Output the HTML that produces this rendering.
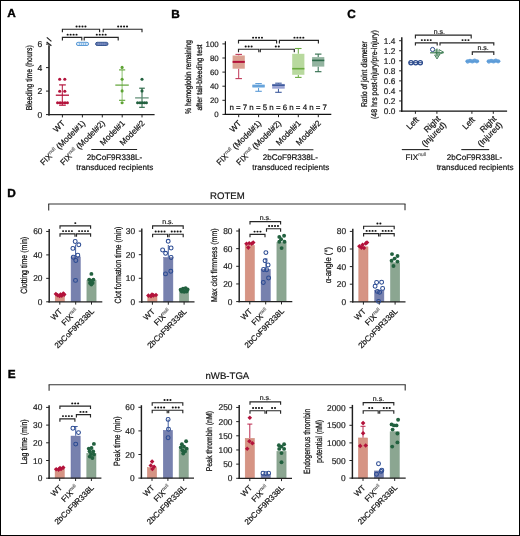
<!DOCTYPE html>
<html><head><meta charset="utf-8"><style>
html,body{margin:0;padding:0;background:#fff;}
.wrap{position:relative;width:520px;height:536px;overflow:hidden;}
.frame{position:absolute;left:0;top:0;width:520px;height:536px;box-sizing:border-box;border:1px solid #000;}
svg{display:block;font-family:"Liberation Sans", sans-serif;will-change:transform;}
</style></head><body><div class="wrap">
<svg width="520" height="536" viewBox="0 0 520 536" text-rendering="geometricPrecision" font-family='"Liberation Sans", sans-serif'>
<rect x="0" y="0" width="520" height="536" fill="#fff" stroke="none" stroke-width="0"/>
<text x="7.3" y="17.4" font-size="11.8" text-anchor="start" font-weight="bold" fill="#000" stroke="#000" stroke-width="0.4">A</text>
<text x="171.2" y="17.8" font-size="11.8" text-anchor="start" font-weight="bold" fill="#000" stroke="#000" stroke-width="0.4">B</text>
<text x="347.3" y="17.9" font-size="11.8" text-anchor="start" font-weight="bold" fill="#000" stroke="#000" stroke-width="0.4">C</text>
<text x="7.3" y="197.3" font-size="11.8" text-anchor="start" font-weight="bold" fill="#000" stroke="#000" stroke-width="0.4">D</text>
<text x="7.8" y="378.1" font-size="11.8" text-anchor="start" font-weight="bold" fill="#000" stroke="#000" stroke-width="0.4">E</text>
<line x1="49.0" y1="45.2" x2="49.0" y2="115.5" stroke="#3a3a3a" stroke-width="1.8"/>
<line x1="46.0" y1="114.6" x2="49.0" y2="114.6" stroke="#222" stroke-width="1.0"/>
<text x="42.300000000000004" y="117.696" font-size="8.6" text-anchor="end" font-weight="normal" fill="#222" stroke="#222" stroke-width="0.2">0</text>
<line x1="46.0" y1="91.1" x2="49.0" y2="91.1" stroke="#222" stroke-width="1.0"/>
<text x="42.300000000000004" y="94.196" font-size="8.6" text-anchor="end" font-weight="normal" fill="#222" stroke="#222" stroke-width="0.2">2</text>
<line x1="46.0" y1="67.6" x2="49.0" y2="67.6" stroke="#222" stroke-width="1.0"/>
<text x="42.300000000000004" y="70.696" font-size="8.6" text-anchor="end" font-weight="normal" fill="#222" stroke="#222" stroke-width="0.2">4</text>
<line x1="46.0" y1="44.099999999999994" x2="49.0" y2="44.099999999999994" stroke="#222" stroke-width="1.0"/>
<text x="42.300000000000004" y="47.19599999999999" font-size="8.6" text-anchor="end" font-weight="normal" fill="#222" stroke="#222" stroke-width="0.2">6</text>
<line x1="46.8" y1="37.4" x2="51.4" y2="41.4" stroke="#222" stroke-width="1.25"/>
<line x1="46.6" y1="42.0" x2="51.4" y2="45.8" stroke="#222" stroke-width="1.25"/>
<line x1="48.2" y1="114.6" x2="154.6" y2="114.6" stroke="#222" stroke-width="1.3"/>
<line x1="62.4" y1="114.6" x2="62.4" y2="117.39999999999999" stroke="#222" stroke-width="1.0"/>
<line x1="82.4" y1="114.6" x2="82.4" y2="117.39999999999999" stroke="#222" stroke-width="1.0"/>
<line x1="102.3" y1="114.6" x2="102.3" y2="117.39999999999999" stroke="#222" stroke-width="1.0"/>
<line x1="122.2" y1="114.6" x2="122.2" y2="117.39999999999999" stroke="#222" stroke-width="1.0"/>
<line x1="142.0" y1="114.6" x2="142.0" y2="117.39999999999999" stroke="#222" stroke-width="1.0"/>
<text transform="translate(32.45 77.80) rotate(-90) scale(0.7952 1)" x="0" y="0" font-size="8.6" text-anchor="middle" fill="#111" stroke="#111" stroke-width="0.25">Bleeding time (hours)</text>
<path d="M62.4 32.2V29.2H99.6V32.2" fill="none" stroke="#262626" stroke-width="1.15"/>
<ellipse cx="76.58" cy="26.50" rx="1.05" ry="0.88" fill="#111"/>
<ellipse cx="79.53" cy="26.50" rx="1.05" ry="0.88" fill="#111"/>
<ellipse cx="82.48" cy="26.50" rx="1.05" ry="0.88" fill="#111"/>
<ellipse cx="85.43" cy="26.50" rx="1.05" ry="0.88" fill="#111"/>
<path d="M103.2 32.2V29.2H142.0V32.2" fill="none" stroke="#262626" stroke-width="1.15"/>
<ellipse cx="118.17" cy="26.50" rx="1.05" ry="0.88" fill="#111"/>
<ellipse cx="121.12" cy="26.50" rx="1.05" ry="0.88" fill="#111"/>
<ellipse cx="124.08" cy="26.50" rx="1.05" ry="0.88" fill="#111"/>
<ellipse cx="127.03" cy="26.50" rx="1.05" ry="0.88" fill="#111"/>
<path d="M62.4 40.4V37.4H81.8V40.4" fill="none" stroke="#262626" stroke-width="1.15"/>
<ellipse cx="67.67" cy="34.70" rx="1.05" ry="0.88" fill="#111"/>
<ellipse cx="70.62" cy="34.70" rx="1.05" ry="0.88" fill="#111"/>
<ellipse cx="73.58" cy="34.70" rx="1.05" ry="0.88" fill="#111"/>
<ellipse cx="76.53" cy="34.70" rx="1.05" ry="0.88" fill="#111"/>
<path d="M84.2 40.4V37.4H118.2V40.4" fill="none" stroke="#262626" stroke-width="1.15"/>
<ellipse cx="96.78" cy="34.70" rx="1.05" ry="0.88" fill="#111"/>
<ellipse cx="99.73" cy="34.70" rx="1.05" ry="0.88" fill="#111"/>
<ellipse cx="102.68" cy="34.70" rx="1.05" ry="0.88" fill="#111"/>
<ellipse cx="105.62" cy="34.70" rx="1.05" ry="0.88" fill="#111"/>
<line x1="62.3" y1="84.9" x2="62.3" y2="105.2" stroke="#b3123b" stroke-width="1.0"/>
<line x1="59.1" y1="84.9" x2="65.8" y2="84.9" stroke="#b3123b" stroke-width="1.2"/>
<line x1="59.1" y1="105.2" x2="65.8" y2="105.2" stroke="#b3123b" stroke-width="1.2"/>
<line x1="55.8" y1="95.2" x2="69.0" y2="95.2" stroke="#b3123b" stroke-width="1.3"/>
<circle cx="59.7" cy="79.3" r="1.55" fill="#b3123b" stroke="none" stroke-width="0"/>
<circle cx="64.8" cy="79.3" r="1.55" fill="#b3123b" stroke="none" stroke-width="0"/>
<circle cx="59.7" cy="91.3" r="1.55" fill="#b3123b" stroke="none" stroke-width="0"/>
<circle cx="64.8" cy="91.3" r="1.55" fill="#b3123b" stroke="none" stroke-width="0"/>
<circle cx="57.6" cy="102.8" r="1.55" fill="#b3123b" stroke="none" stroke-width="0"/>
<circle cx="60.1" cy="102.8" r="1.55" fill="#b3123b" stroke="none" stroke-width="0"/>
<circle cx="62.5" cy="102.8" r="1.55" fill="#b3123b" stroke="none" stroke-width="0"/>
<circle cx="65.0" cy="102.8" r="1.55" fill="#b3123b" stroke="none" stroke-width="0"/>
<circle cx="67.4" cy="102.8" r="1.55" fill="#b3123b" stroke="none" stroke-width="0"/>
<rect x="76.4" y="42.3" width="12.2" height="3.2" rx="1.6" fill="#d8e8f7" stroke="#5a9ad6" stroke-width="1.0"/>
<line x1="79.6" y1="42.6" x2="79.6" y2="45.2" stroke="#6aa6dc" stroke-width="0.7"/>
<line x1="81.6" y1="42.6" x2="81.6" y2="45.2" stroke="#6aa6dc" stroke-width="0.7"/>
<line x1="83.6" y1="42.6" x2="83.6" y2="45.2" stroke="#6aa6dc" stroke-width="0.7"/>
<line x1="85.6" y1="42.6" x2="85.6" y2="45.2" stroke="#6aa6dc" stroke-width="0.7"/>
<rect x="95.6" y="42.3" width="12.4" height="3.2" rx="1.6" fill="#6478b0" stroke="#34548f" stroke-width="1.0"/>
<line x1="98.8" y1="42.6" x2="98.8" y2="45.2" stroke="#8a9ccc" stroke-width="0.6"/>
<line x1="100.8" y1="42.6" x2="100.8" y2="45.2" stroke="#8a9ccc" stroke-width="0.6"/>
<line x1="102.8" y1="42.6" x2="102.8" y2="45.2" stroke="#8a9ccc" stroke-width="0.6"/>
<line x1="104.8" y1="42.6" x2="104.8" y2="45.2" stroke="#8a9ccc" stroke-width="0.6"/>
<line x1="122.1" y1="69.9" x2="122.1" y2="100.3" stroke="#8cc070" stroke-width="1.0"/>
<line x1="119.0" y1="69.9" x2="125.2" y2="69.9" stroke="#5ea334" stroke-width="1.1"/>
<line x1="119.0" y1="100.3" x2="125.2" y2="100.3" stroke="#5ea334" stroke-width="1.1"/>
<line x1="115.3" y1="85.1" x2="128.8" y2="85.1" stroke="#5ea334" stroke-width="1.2"/>
<circle cx="122.1" cy="67.4" r="1.55" fill="#5ea334" stroke="none" stroke-width="0"/>
<circle cx="122.1" cy="79.3" r="1.55" fill="#5ea334" stroke="none" stroke-width="0"/>
<circle cx="122.1" cy="90.9" r="1.55" fill="#5ea334" stroke="none" stroke-width="0"/>
<circle cx="122.1" cy="102.8" r="1.55" fill="#5ea334" stroke="none" stroke-width="0"/>
<line x1="142.0" y1="88.2" x2="142.0" y2="107.3" stroke="#22613f" stroke-width="1.0"/>
<line x1="139.2" y1="88.2" x2="144.8" y2="88.2" stroke="#22613f" stroke-width="1.1"/>
<line x1="139.2" y1="107.3" x2="144.8" y2="107.3" stroke="#22613f" stroke-width="1.1"/>
<line x1="135.1" y1="97.9" x2="148.7" y2="97.9" stroke="#5a8a70" stroke-width="1.2"/>
<circle cx="142.0" cy="79.3" r="1.55" fill="#22613f" stroke="none" stroke-width="0"/>
<circle cx="142.0" cy="90.9" r="1.55" fill="#22613f" stroke="none" stroke-width="0"/>
<circle cx="137.6" cy="102.8" r="1.55" fill="#22613f" stroke="none" stroke-width="0"/>
<circle cx="140.0" cy="102.8" r="1.55" fill="#22613f" stroke="none" stroke-width="0"/>
<circle cx="142.2" cy="102.8" r="1.55" fill="#22613f" stroke="none" stroke-width="0"/>
<circle cx="144.4" cy="102.8" r="1.55" fill="#22613f" stroke="none" stroke-width="0"/>
<circle cx="146.4" cy="102.8" r="1.55" fill="#22613f" stroke="none" stroke-width="0"/>
<text x="65.6" y="123.7" font-size="8.2" text-anchor="end" fill="#111" stroke="#111" stroke-width="0.2" transform="rotate(-45 65.6 123.7)">WT</text>
<text x="85.60000000000001" y="123.7" font-size="8.2" text-anchor="end" fill="#111" stroke="#111" stroke-width="0.2" transform="rotate(-45 85.60000000000001 123.7)">FIX<tspan font-size="4.9" dy="-3.2" fill="#666" stroke="#666">null</tspan><tspan dy="3.2"> (Model#1)</tspan></text>
<text x="105.5" y="123.7" font-size="8.2" text-anchor="end" fill="#111" stroke="#111" stroke-width="0.2" transform="rotate(-45 105.5 123.7)">FIX<tspan font-size="4.9" dy="-3.2" fill="#666" stroke="#666">null</tspan><tspan dy="3.2"> (Model#2)</tspan></text>
<text x="125.4" y="123.7" font-size="8.2" text-anchor="end" fill="#111" stroke="#111" stroke-width="0.2" transform="rotate(-45 125.4 123.7)">Model#1</text>
<text x="145.2" y="123.7" font-size="8.2" text-anchor="end" fill="#111" stroke="#111" stroke-width="0.2" transform="rotate(-45 145.2 123.7)">Model#2</text>
<line x1="91.3" y1="149.5" x2="137.1" y2="149.5" stroke="#222" stroke-width="1.1"/>
<text x="114.5" y="160.1" font-size="8.1" text-anchor="middle" font-weight="normal" fill="#111" stroke="#111" stroke-width="0.2">2bCoF9R338L-</text>
<text x="114.8" y="169.9" font-size="8.1" text-anchor="middle" font-weight="normal" fill="#111" stroke="#111" stroke-width="0.2">transduced recipients</text>
<line x1="225.4" y1="41.3" x2="225.4" y2="114.97500000000001" stroke="#111" stroke-width="1.15"/>
<line x1="222.4" y1="114.4" x2="225.4" y2="114.4" stroke="#222" stroke-width="1.0"/>
<text x="218.7" y="117.244" font-size="7.9" text-anchor="end" font-weight="normal" fill="#222" stroke="#222" stroke-width="0.2">0</text>
<line x1="222.4" y1="100.30000000000001" x2="225.4" y2="100.30000000000001" stroke="#222" stroke-width="1.0"/>
<text x="218.7" y="103.144" font-size="7.9" text-anchor="end" font-weight="normal" fill="#222" stroke="#222" stroke-width="0.2">20</text>
<line x1="222.4" y1="86.2" x2="225.4" y2="86.2" stroke="#222" stroke-width="1.0"/>
<text x="218.7" y="89.044" font-size="7.9" text-anchor="end" font-weight="normal" fill="#222" stroke="#222" stroke-width="0.2">40</text>
<line x1="222.4" y1="72.10000000000001" x2="225.4" y2="72.10000000000001" stroke="#222" stroke-width="1.0"/>
<text x="218.7" y="74.944" font-size="7.9" text-anchor="end" font-weight="normal" fill="#222" stroke="#222" stroke-width="0.2">60</text>
<line x1="222.4" y1="58.00000000000001" x2="225.4" y2="58.00000000000001" stroke="#222" stroke-width="1.0"/>
<text x="218.7" y="60.84400000000001" font-size="7.9" text-anchor="end" font-weight="normal" fill="#222" stroke="#222" stroke-width="0.2">80</text>
<line x1="222.4" y1="43.900000000000006" x2="225.4" y2="43.900000000000006" stroke="#222" stroke-width="1.0"/>
<text x="218.7" y="46.74400000000001" font-size="7.9" text-anchor="end" font-weight="normal" fill="#222" stroke="#222" stroke-width="0.2">100</text>
<line x1="224.6" y1="114.4" x2="331.3" y2="114.4" stroke="#111" stroke-width="1.2"/>
<line x1="238.7" y1="114.4" x2="238.7" y2="117.2" stroke="#222" stroke-width="1.0"/>
<line x1="258.6" y1="114.4" x2="258.6" y2="117.2" stroke="#222" stroke-width="1.0"/>
<line x1="278.5" y1="114.4" x2="278.5" y2="117.2" stroke="#222" stroke-width="1.0"/>
<line x1="298.3" y1="114.4" x2="298.3" y2="117.2" stroke="#222" stroke-width="1.0"/>
<line x1="318.3" y1="114.4" x2="318.3" y2="117.2" stroke="#222" stroke-width="1.0"/>
<text transform="translate(191.29 77.00) rotate(-90) scale(0.8004 1)" x="0" y="0" font-size="8.4" text-anchor="middle" fill="#111" stroke="#111" stroke-width="0.25">% hemoglobin remaining</text>
<text transform="translate(202.06 77.50) rotate(-90) scale(0.8629 1)" x="0" y="0" font-size="8.0" text-anchor="middle" fill="#111" stroke="#111" stroke-width="0.25">after tail-bleeding test</text>
<path d="M238.5 43.4V40.4H276.6V43.4" fill="none" stroke="#262626" stroke-width="1.15"/>
<ellipse cx="253.12" cy="37.70" rx="1.05" ry="0.88" fill="#111"/>
<ellipse cx="256.07" cy="37.70" rx="1.05" ry="0.88" fill="#111"/>
<ellipse cx="259.02" cy="37.70" rx="1.05" ry="0.88" fill="#111"/>
<ellipse cx="261.98" cy="37.70" rx="1.05" ry="0.88" fill="#111"/>
<path d="M279.4 43.4V40.4H318.4V43.4" fill="none" stroke="#262626" stroke-width="1.15"/>
<ellipse cx="294.47" cy="37.70" rx="1.05" ry="0.88" fill="#111"/>
<ellipse cx="297.42" cy="37.70" rx="1.05" ry="0.88" fill="#111"/>
<ellipse cx="300.37" cy="37.70" rx="1.05" ry="0.88" fill="#111"/>
<ellipse cx="303.32" cy="37.70" rx="1.05" ry="0.88" fill="#111"/>
<path d="M238.5 52.2V49.2H258.8V52.2" fill="none" stroke="#262626" stroke-width="1.15"/>
<ellipse cx="245.70" cy="46.50" rx="1.05" ry="0.88" fill="#111"/>
<ellipse cx="248.65" cy="46.50" rx="1.05" ry="0.88" fill="#111"/>
<ellipse cx="251.60" cy="46.50" rx="1.05" ry="0.88" fill="#111"/>
<path d="M260.3 52.2V49.2H294.3V52.2" fill="none" stroke="#262626" stroke-width="1.15"/>
<ellipse cx="275.82" cy="46.50" rx="1.05" ry="0.88" fill="#111"/>
<ellipse cx="278.77" cy="46.50" rx="1.05" ry="0.88" fill="#111"/>
<line x1="238.7" y1="54.4" x2="238.7" y2="55.5" stroke="#c03858" stroke-width="1.0"/>
<line x1="238.7" y1="68.7" x2="238.7" y2="78.6" stroke="#c03858" stroke-width="1.0"/>
<line x1="235.45" y1="54.4" x2="241.95" y2="54.4" stroke="#c03858" stroke-width="1.1"/>
<line x1="235.45" y1="78.6" x2="241.95" y2="78.6" stroke="#c03858" stroke-width="1.1"/>
<rect x="232.6" y="55.5" width="12.200000000000017" height="13.200000000000003" fill="#dba292" stroke="none" stroke-width="0"/>
<line x1="232.6" y1="61.9" x2="244.8" y2="61.9" stroke="#b3123b" stroke-width="2.0"/>
<line x1="258.55" y1="83.6" x2="258.55" y2="84.4" stroke="#5a9ad6" stroke-width="1.0"/>
<line x1="258.55" y1="87.8" x2="258.55" y2="91.3" stroke="#5a9ad6" stroke-width="1.0"/>
<line x1="255.3" y1="83.6" x2="261.8" y2="83.6" stroke="#5a9ad6" stroke-width="1.1"/>
<line x1="255.3" y1="91.3" x2="261.8" y2="91.3" stroke="#5a9ad6" stroke-width="1.1"/>
<rect x="252.4" y="84.4" width="12.299999999999983" height="3.3999999999999915" fill="#9cc6ec" stroke="none" stroke-width="0"/>
<line x1="252.4" y1="86.0" x2="264.7" y2="86.0" stroke="#5a9ad6" stroke-width="1.6"/>
<line x1="278.45" y1="83.2" x2="278.45" y2="83.9" stroke="#3d5a9c" stroke-width="1.0"/>
<line x1="278.45" y1="88.7" x2="278.45" y2="92.3" stroke="#3d5a9c" stroke-width="1.0"/>
<line x1="275.2" y1="83.2" x2="281.7" y2="83.2" stroke="#3d5a9c" stroke-width="1.1"/>
<line x1="275.2" y1="92.3" x2="281.7" y2="92.3" stroke="#3d5a9c" stroke-width="1.1"/>
<rect x="272.2" y="83.9" width="12.5" height="4.799999999999997" fill="#9aa3d3" stroke="none" stroke-width="0"/>
<line x1="272.2" y1="85.2" x2="284.7" y2="85.2" stroke="#3d5a9c" stroke-width="1.6"/>
<line x1="298.29999999999995" y1="48.5" x2="298.29999999999995" y2="53.8" stroke="#6aaa40" stroke-width="1.0"/>
<line x1="298.29999999999995" y1="74.8" x2="298.29999999999995" y2="77.4" stroke="#6aaa40" stroke-width="1.0"/>
<line x1="295.04999999999995" y1="48.5" x2="301.54999999999995" y2="48.5" stroke="#6aaa40" stroke-width="1.1"/>
<line x1="295.04999999999995" y1="77.4" x2="301.54999999999995" y2="77.4" stroke="#6aaa40" stroke-width="1.1"/>
<rect x="292.2" y="53.8" width="12.199999999999989" height="21.0" fill="#b8d99e" stroke="none" stroke-width="0"/>
<line x1="292.2" y1="68.7" x2="304.4" y2="68.7" stroke="#6aaa40" stroke-width="1.6"/>
<line x1="318.20000000000005" y1="54.1" x2="318.20000000000005" y2="57.1" stroke="#2e6b4a" stroke-width="1.0"/>
<line x1="318.20000000000005" y1="66.6" x2="318.20000000000005" y2="71.7" stroke="#2e6b4a" stroke-width="1.0"/>
<line x1="314.95000000000005" y1="54.1" x2="321.45000000000005" y2="54.1" stroke="#2e6b4a" stroke-width="1.1"/>
<line x1="314.95000000000005" y1="71.7" x2="321.45000000000005" y2="71.7" stroke="#2e6b4a" stroke-width="1.1"/>
<rect x="312.1" y="57.1" width="12.199999999999989" height="9.499999999999993" fill="#93b4a0" stroke="none" stroke-width="0"/>
<line x1="312.1" y1="60.4" x2="324.3" y2="60.4" stroke="#2e6b4a" stroke-width="1.6"/>
<text x="241.89999999999998" y="123.7" font-size="8.2" text-anchor="end" fill="#111" stroke="#111" stroke-width="0.2" transform="rotate(-45 241.89999999999998 123.7)">WT</text>
<text x="261.8" y="123.7" font-size="8.2" text-anchor="end" fill="#111" stroke="#111" stroke-width="0.2" transform="rotate(-45 261.8 123.7)">FIX<tspan font-size="4.9" dy="-3.2" fill="#666" stroke="#666">null</tspan><tspan dy="3.2"> (Model#1)</tspan></text>
<text x="281.7" y="123.7" font-size="8.2" text-anchor="end" fill="#111" stroke="#111" stroke-width="0.2" transform="rotate(-45 281.7 123.7)">FIX<tspan font-size="4.9" dy="-3.2" fill="#666" stroke="#666">null</tspan><tspan dy="3.2"> (Model#2)</tspan></text>
<text x="301.5" y="123.7" font-size="8.2" text-anchor="end" fill="#111" stroke="#111" stroke-width="0.2" transform="rotate(-45 301.5 123.7)">Model#1</text>
<text x="321.5" y="123.7" font-size="8.2" text-anchor="end" fill="#111" stroke="#111" stroke-width="0.2" transform="rotate(-45 321.5 123.7)">Model#2</text>
<text x="278.2" y="109.6" font-size="7.9" text-anchor="middle" font-weight="normal" fill="#111" stroke="#111" stroke-width="0.2">n = 7 n = 5 n = 6 n = 4 n = 7</text>
<line x1="268.2" y1="149.8" x2="313.4" y2="149.8" stroke="#222" stroke-width="1.1"/>
<text x="290.3" y="159.9" font-size="8.1" text-anchor="middle" font-weight="normal" fill="#111" stroke="#111" stroke-width="0.2">2bCoF9R338L-</text>
<text x="290.8" y="169.8" font-size="8.1" text-anchor="middle" font-weight="normal" fill="#111" stroke="#111" stroke-width="0.2">transduced recipients</text>
<line x1="401.8" y1="37.3" x2="401.8" y2="111.7" stroke="#111" stroke-width="1.4"/>
<line x1="399.1" y1="111.0" x2="401.8" y2="111.0" stroke="#222" stroke-width="1.0"/>
<text x="395.40000000000003" y="113.988" font-size="8.3" text-anchor="end" font-weight="normal" fill="#222" stroke="#222" stroke-width="0.2">0.0</text>
<line x1="399.1" y1="100.96" x2="401.8" y2="100.96" stroke="#222" stroke-width="1.0"/>
<text x="395.40000000000003" y="103.948" font-size="8.3" text-anchor="end" font-weight="normal" fill="#222" stroke="#222" stroke-width="0.2">0.2</text>
<line x1="399.1" y1="90.92" x2="401.8" y2="90.92" stroke="#222" stroke-width="1.0"/>
<text x="395.40000000000003" y="93.908" font-size="8.3" text-anchor="end" font-weight="normal" fill="#222" stroke="#222" stroke-width="0.2">0.4</text>
<line x1="399.1" y1="80.88" x2="401.8" y2="80.88" stroke="#222" stroke-width="1.0"/>
<text x="395.40000000000003" y="83.868" font-size="8.3" text-anchor="end" font-weight="normal" fill="#222" stroke="#222" stroke-width="0.2">0.6</text>
<line x1="399.1" y1="70.84" x2="401.8" y2="70.84" stroke="#222" stroke-width="1.0"/>
<text x="395.40000000000003" y="73.828" font-size="8.3" text-anchor="end" font-weight="normal" fill="#222" stroke="#222" stroke-width="0.2">0.8</text>
<line x1="399.1" y1="60.8" x2="401.8" y2="60.8" stroke="#222" stroke-width="1.0"/>
<text x="395.40000000000003" y="63.788" font-size="8.3" text-anchor="end" font-weight="normal" fill="#222" stroke="#222" stroke-width="0.2">1.0</text>
<line x1="399.1" y1="50.76" x2="401.8" y2="50.76" stroke="#222" stroke-width="1.0"/>
<text x="395.40000000000003" y="53.748" font-size="8.3" text-anchor="end" font-weight="normal" fill="#222" stroke="#222" stroke-width="0.2">1.2</text>
<line x1="399.1" y1="40.72" x2="401.8" y2="40.72" stroke="#222" stroke-width="1.0"/>
<text x="395.40000000000003" y="43.708" font-size="8.3" text-anchor="end" font-weight="normal" fill="#222" stroke="#222" stroke-width="0.2">1.4</text>
<line x1="401.0" y1="111.0" x2="507.1" y2="111.0" stroke="#111" stroke-width="1.25"/>
<line x1="415.4" y1="111.0" x2="415.4" y2="113.8" stroke="#222" stroke-width="1.0"/>
<line x1="436.9" y1="111.0" x2="436.9" y2="113.8" stroke="#222" stroke-width="1.0"/>
<line x1="471.9" y1="111.0" x2="471.9" y2="113.8" stroke="#222" stroke-width="1.0"/>
<line x1="493.3" y1="111.0" x2="493.3" y2="113.8" stroke="#222" stroke-width="1.0"/>
<text transform="translate(367.19 74.20) rotate(-90) scale(0.8077 1)" x="0" y="0" font-size="8.4" text-anchor="middle" fill="#111" stroke="#111" stroke-width="0.25">Ratio of joint diameter</text>
<text transform="translate(377.49 74.60) rotate(-90) scale(0.8289 1)" x="0" y="0" font-size="8.4" text-anchor="middle" fill="#111" stroke="#111" stroke-width="0.25">(48 hrs post-injury/pre-injury)</text>
<path d="M415.4 38.5V35.1H471.2V38.5" fill="none" stroke="#262626" stroke-width="1.15"/>
<text x="439.4" y="33.5" font-size="7.0" text-anchor="middle" font-weight="normal" fill="#222" stroke="#222" stroke-width="0.2">n.s.</text>
<path d="M415.4 45.4V42.8H437.2V45.4" fill="none" stroke="#262626" stroke-width="1.15"/>
<ellipse cx="421.87" cy="40.10" rx="1.05" ry="0.88" fill="#111"/>
<ellipse cx="424.82" cy="40.10" rx="1.05" ry="0.88" fill="#111"/>
<ellipse cx="427.77" cy="40.10" rx="1.05" ry="0.88" fill="#111"/>
<ellipse cx="430.72" cy="40.10" rx="1.05" ry="0.88" fill="#111"/>
<path d="M440.0 45.4V42.8H493.8V45.4" fill="none" stroke="#262626" stroke-width="1.15"/>
<ellipse cx="462.55" cy="40.10" rx="1.05" ry="0.88" fill="#111"/>
<ellipse cx="465.50" cy="40.10" rx="1.05" ry="0.88" fill="#111"/>
<ellipse cx="468.45" cy="40.10" rx="1.05" ry="0.88" fill="#111"/>
<path d="M472.3 55.0V51.8H493.8V55.0" fill="none" stroke="#262626" stroke-width="1.15"/>
<text x="483.05" y="50.199999999999996" font-size="7.0" text-anchor="middle" font-weight="normal" fill="#222" stroke="#222" stroke-width="0.2">n.s.</text>
<circle cx="411.0" cy="62.7" r="2.1" fill="none" stroke="#2a4a8e" stroke-width="1.25"/>
<circle cx="415.7" cy="62.7" r="2.1" fill="none" stroke="#2a4a8e" stroke-width="1.25"/>
<circle cx="420.3" cy="62.7" r="2.1" fill="none" stroke="#2a4a8e" stroke-width="1.25"/>
<line x1="408.5" y1="62.7" x2="423.0" y2="62.7" stroke="#2e4a8a" stroke-width="1.0"/>
<circle cx="432.6" cy="49.5" r="2.1" fill="none" stroke="#2e4a8a" stroke-width="1.0"/>
<line x1="430.1" y1="52.8" x2="443.5" y2="52.8" stroke="#3a7a50" stroke-width="1.2"/>
<line x1="437.0" y1="48.5" x2="437.0" y2="57.5" stroke="#3a7a50" stroke-width="1.0"/>
<path d="M439 49.6L443.6 52.2L439 54.6Z" fill="none" stroke="#3a7a50" stroke-width="0.9"/>
<path d="M434.6 55L439.4 55L437 59Z" fill="none" stroke="#3a7a50" stroke-width="0.9"/>
<path d="M434.5 50.6L436.7 49.6L436.7 54Z" fill="none" stroke="#3a7a50" stroke-width="0.8"/>
<circle cx="467.7" cy="61.5" r="2.15" fill="#6aa5dd" stroke="none" stroke-width="0"/>
<circle cx="470.0" cy="60.800000000000004" r="2.15" fill="#6aa5dd" stroke="none" stroke-width="0"/>
<circle cx="472.3" cy="61.400000000000006" r="2.15" fill="#6aa5dd" stroke="none" stroke-width="0"/>
<circle cx="474.59999999999997" cy="60.7" r="2.15" fill="#6aa5dd" stroke="none" stroke-width="0"/>
<circle cx="476.9" cy="61.300000000000004" r="2.15" fill="#6aa5dd" stroke="none" stroke-width="0"/>
<line x1="465.5" y1="61.2" x2="479.1" y2="61.2" stroke="#5a9ad6" stroke-width="1.3"/>
<circle cx="488.9" cy="61.5" r="2.15" fill="#6aa5dd" stroke="none" stroke-width="0"/>
<circle cx="491.2" cy="60.800000000000004" r="2.15" fill="#6aa5dd" stroke="none" stroke-width="0"/>
<circle cx="493.5" cy="61.400000000000006" r="2.15" fill="#6aa5dd" stroke="none" stroke-width="0"/>
<circle cx="495.79999999999995" cy="60.7" r="2.15" fill="#6aa5dd" stroke="none" stroke-width="0"/>
<circle cx="498.09999999999997" cy="61.300000000000004" r="2.15" fill="#6aa5dd" stroke="none" stroke-width="0"/>
<line x1="486.7" y1="61.2" x2="500.3" y2="61.2" stroke="#5a9ad6" stroke-width="1.3"/>
<text x="419.5" y="120.3" font-size="8.3" text-anchor="end" fill="#111" stroke="#111" stroke-width="0.2" transform="rotate(-45 419.5 120.3)">Left</text>
<text x="441.0" y="119.4" font-size="8.3" text-anchor="end" fill="#111" stroke="#111" stroke-width="0.2" transform="rotate(-45 441.0 119.4)">Right</text>
<text x="446.8" y="125.4" font-size="8.3" text-anchor="end" fill="#111" stroke="#111" stroke-width="0.2" transform="rotate(-45 446.8 125.4)">(Injured)</text>
<text x="475.5" y="120.3" font-size="8.3" text-anchor="end" fill="#111" stroke="#111" stroke-width="0.2" transform="rotate(-45 475.5 120.3)">Left</text>
<text x="497.0" y="119.4" font-size="8.3" text-anchor="end" fill="#111" stroke="#111" stroke-width="0.2" transform="rotate(-45 497.0 119.4)">Right</text>
<text x="502.8" y="125.4" font-size="8.3" text-anchor="end" fill="#111" stroke="#111" stroke-width="0.2" transform="rotate(-45 502.8 125.4)">(Injured)</text>
<line x1="401.8" y1="149.6" x2="429.5" y2="149.6" stroke="#222" stroke-width="1.1"/>
<line x1="461.3" y1="149.6" x2="489.2" y2="149.6" stroke="#222" stroke-width="1.1"/>
<text x="405.6" y="159.6" font-size="8.1" text-anchor="start" font-weight="normal" fill="#111" stroke="#111" stroke-width="0.2">FIX<tspan font-size="4.9" dy="-3.2" fill="#666" stroke="#666">null</tspan></text>
<text x="474.5" y="159.6" font-size="8.1" text-anchor="middle" font-weight="normal" fill="#111" stroke="#111" stroke-width="0.2">2bCoF9R338L-</text>
<text x="475.1" y="169.7" font-size="8.1" text-anchor="middle" font-weight="normal" fill="#111" stroke="#111" stroke-width="0.2">transduced recipients</text>
<line x1="48.2" y1="204.0" x2="405.5" y2="204.0" stroke="#333" stroke-width="1.1"/>
<line x1="48.7" y1="204.0" x2="48.7" y2="210.4" stroke="#333" stroke-width="1.1"/>
<line x1="405.0" y1="204.0" x2="405.0" y2="210.2" stroke="#333" stroke-width="1.1"/>
<text x="227.4" y="198.6" font-size="9.6" text-anchor="middle" font-weight="normal" fill="#111" stroke="#111" stroke-width="0.2">ROTEM</text>
<line x1="48.6" y1="384.7" x2="405.7" y2="384.7" stroke="#333" stroke-width="1.1"/>
<line x1="49.1" y1="384.7" x2="49.1" y2="390.7" stroke="#333" stroke-width="1.1"/>
<line x1="405.2" y1="384.7" x2="405.2" y2="390.5" stroke="#333" stroke-width="1.1"/>
<text x="227.4" y="379.2" font-size="9.6" text-anchor="middle" font-weight="normal" fill="#111" stroke="#111" stroke-width="0.2">nWB-TGA</text>
<rect x="55.2" y="295.85" width="9.2" height="5.949999999999989" fill="#d69484" stroke="#cc8676" stroke-width="0.5"/>
<rect x="71.10000000000001" y="256.75" width="9.2" height="45.05000000000001" fill="#7781ae" stroke="#6872a6" stroke-width="0.5"/>
<rect x="86.9" y="280.25" width="9.2" height="21.55000000000001" fill="#8ba691" stroke="#7d9a86" stroke-width="0.5"/>
<line x1="49.2" y1="229.0" x2="49.2" y2="302.52500000000003" stroke="#1e1e1e" stroke-width="1.45"/>
<line x1="46.2" y1="301.8" x2="49.2" y2="301.8" stroke="#222" stroke-width="1.0"/>
<text x="42.50000000000001" y="304.824" font-size="8.4" text-anchor="end" font-weight="normal" fill="#222" stroke="#222" stroke-width="0.2">0</text>
<line x1="46.2" y1="278.35" x2="49.2" y2="278.35" stroke="#222" stroke-width="1.0"/>
<text x="42.50000000000001" y="281.374" font-size="8.4" text-anchor="end" font-weight="normal" fill="#222" stroke="#222" stroke-width="0.2">20</text>
<line x1="46.2" y1="254.90000000000003" x2="49.2" y2="254.90000000000003" stroke="#222" stroke-width="1.0"/>
<text x="42.50000000000001" y="257.92400000000004" font-size="8.4" text-anchor="end" font-weight="normal" fill="#222" stroke="#222" stroke-width="0.2">40</text>
<line x1="46.2" y1="231.45000000000002" x2="49.2" y2="231.45000000000002" stroke="#222" stroke-width="1.0"/>
<text x="42.50000000000001" y="234.47400000000002" font-size="8.4" text-anchor="end" font-weight="normal" fill="#222" stroke="#222" stroke-width="0.2">60</text>
<line x1="48.400000000000006" y1="301.8" x2="102.3" y2="301.8" stroke="#222" stroke-width="1.3"/>
<line x1="59.800000000000004" y1="301.8" x2="59.800000000000004" y2="304.6" stroke="#222" stroke-width="1.0"/>
<line x1="75.7" y1="301.8" x2="75.7" y2="304.6" stroke="#222" stroke-width="1.0"/>
<line x1="91.5" y1="301.8" x2="91.5" y2="304.6" stroke="#222" stroke-width="1.0"/>
<line x1="75.6" y1="244.5" x2="75.6" y2="256.5" stroke="#2f4e96" stroke-width="0.9"/>
<line x1="75.6" y1="244.5" x2="75.6" y2="244.5" stroke="#2f4e96" stroke-width="0.9"/>
<path d="M55.9 291.7L58.199999999999996 294.0L55.9 296.3L53.6 294.0Z" fill="#b3123b"/>
<path d="M57.6 293.0L59.9 295.3L57.6 297.6L55.300000000000004 295.3Z" fill="#b3123b"/>
<path d="M59.6 293.7L61.9 296.0L59.6 298.3L57.300000000000004 296.0Z" fill="#b3123b"/>
<path d="M61.8 293.3L64.1 295.6L61.8 297.90000000000003L59.5 295.6Z" fill="#b3123b"/>
<path d="M63.3 291.3L65.6 293.6L63.3 295.90000000000003L61.0 293.6Z" fill="#b3123b"/>
<path d="M64.2 292.3L66.5 294.6L64.2 296.90000000000003L61.900000000000006 294.6Z" fill="#b3123b"/>
<path d="M60.5 292.3L62.8 294.6L60.5 296.90000000000003L58.2 294.6Z" fill="#b3123b"/>
<circle cx="75.2" cy="241.5" r="1.95" fill="none" stroke="#2a4a92" stroke-width="1.05"/>
<circle cx="78.8" cy="244.8" r="1.95" fill="none" stroke="#2a4a92" stroke-width="1.05"/>
<circle cx="72.9" cy="248.4" r="1.95" fill="none" stroke="#2a4a92" stroke-width="1.05"/>
<circle cx="77.8" cy="255.2" r="1.95" fill="none" stroke="#2a4a92" stroke-width="1.05"/>
<circle cx="73.3" cy="257.2" r="1.95" fill="none" stroke="#2a4a92" stroke-width="1.05"/>
<circle cx="75.8" cy="260.5" r="1.95" fill="none" stroke="#2a4a92" stroke-width="1.05"/>
<circle cx="75.5" cy="280.4" r="1.95" fill="none" stroke="#2a4a92" stroke-width="1.05"/>
<circle cx="91.4" cy="273.9" r="1.95" fill="#22613f" stroke="none" stroke-width="0"/>
<circle cx="89.2" cy="279.6" r="1.95" fill="#22613f" stroke="none" stroke-width="0"/>
<circle cx="93.4" cy="279.6" r="1.95" fill="#22613f" stroke="none" stroke-width="0"/>
<circle cx="91.4" cy="281.0" r="1.95" fill="#22613f" stroke="none" stroke-width="0"/>
<circle cx="90.0" cy="283.0" r="1.95" fill="#22613f" stroke="none" stroke-width="0"/>
<circle cx="92.6" cy="283.0" r="1.95" fill="#22613f" stroke="none" stroke-width="0"/>
<circle cx="91.3" cy="284.6" r="1.95" fill="#22613f" stroke="none" stroke-width="0"/>
<text transform="translate(27.48 265.30) rotate(-90) scale(0.7806 1)" x="0" y="0" font-size="9.0" text-anchor="middle" fill="#111" stroke="#111" stroke-width="0.25">Clotting time (min)</text>
<path d="M60.00000000000001 228.8V225.8H90.6V228.8" fill="none" stroke="#262626" stroke-width="1.15"/>
<ellipse cx="75.30" cy="223.10" rx="1.05" ry="0.88" fill="#111"/>
<path d="M60.00000000000001 236.8V233.8H75.0V236.8" fill="none" stroke="#262626" stroke-width="1.15"/>
<ellipse cx="63.08" cy="231.10" rx="1.05" ry="0.88" fill="#111"/>
<ellipse cx="66.03" cy="231.10" rx="1.05" ry="0.88" fill="#111"/>
<ellipse cx="68.98" cy="231.10" rx="1.05" ry="0.88" fill="#111"/>
<ellipse cx="71.93" cy="231.10" rx="1.05" ry="0.88" fill="#111"/>
<path d="M76.5 236.8V233.8H90.6V236.8" fill="none" stroke="#262626" stroke-width="1.15"/>
<ellipse cx="79.12" cy="231.10" rx="1.05" ry="0.88" fill="#111"/>
<ellipse cx="82.08" cy="231.10" rx="1.05" ry="0.88" fill="#111"/>
<ellipse cx="85.03" cy="231.10" rx="1.05" ry="0.88" fill="#111"/>
<ellipse cx="87.97" cy="231.10" rx="1.05" ry="0.88" fill="#111"/>
<text x="62.800000000000004" y="311.90000000000003" font-size="8.0" text-anchor="end" fill="#111" stroke="#111" stroke-width="0.2" transform="rotate(-45 62.800000000000004 311.90000000000003)">WT</text>
<text x="78.80000000000001" y="311.90000000000003" font-size="8.0" text-anchor="end" fill="#111" stroke="#111" stroke-width="0.2" transform="rotate(-45 78.80000000000001 311.90000000000003)">FIX<tspan font-size="4.8" dy="-3.3" fill="#666" stroke="#666">null</tspan></text>
<text x="94.6" y="311.90000000000003" font-size="8.0" text-anchor="end" fill="#111" stroke="#111" stroke-width="0.2" transform="rotate(-45 94.6 311.90000000000003)">2bCoF9R338L</text>
<rect x="147.8" y="296.25" width="9.2" height="5.649999999999977" fill="#d69484" stroke="#cc8676" stroke-width="0.5"/>
<rect x="163.70000000000002" y="257.45" width="9.2" height="44.44999999999999" fill="#7781ae" stroke="#6872a6" stroke-width="0.5"/>
<rect x="179.50000000000003" y="290.25" width="9.2" height="11.649999999999977" fill="#8ba691" stroke="#7d9a86" stroke-width="0.5"/>
<line x1="141.8" y1="228.5" x2="141.8" y2="302.625" stroke="#1e1e1e" stroke-width="1.45"/>
<line x1="138.8" y1="301.9" x2="141.8" y2="301.9" stroke="#222" stroke-width="1.0"/>
<text x="135.1" y="304.924" font-size="8.4" text-anchor="end" font-weight="normal" fill="#222" stroke="#222" stroke-width="0.2">0</text>
<line x1="138.8" y1="278.29999999999995" x2="141.8" y2="278.29999999999995" stroke="#222" stroke-width="1.0"/>
<text x="135.1" y="281.32399999999996" font-size="8.4" text-anchor="end" font-weight="normal" fill="#222" stroke="#222" stroke-width="0.2">10</text>
<line x1="138.8" y1="254.7" x2="141.8" y2="254.7" stroke="#222" stroke-width="1.0"/>
<text x="135.1" y="257.724" font-size="8.4" text-anchor="end" font-weight="normal" fill="#222" stroke="#222" stroke-width="0.2">20</text>
<line x1="138.8" y1="231.09999999999997" x2="141.8" y2="231.09999999999997" stroke="#222" stroke-width="1.0"/>
<text x="135.1" y="234.12399999999997" font-size="8.4" text-anchor="end" font-weight="normal" fill="#222" stroke="#222" stroke-width="0.2">30</text>
<line x1="141.0" y1="301.9" x2="194.5" y2="301.9" stroke="#222" stroke-width="1.3"/>
<line x1="152.4" y1="301.9" x2="152.4" y2="304.7" stroke="#222" stroke-width="1.0"/>
<line x1="168.3" y1="301.9" x2="168.3" y2="304.7" stroke="#222" stroke-width="1.0"/>
<line x1="184.10000000000002" y1="301.9" x2="184.10000000000002" y2="304.7" stroke="#222" stroke-width="1.0"/>
<line x1="168.3" y1="245.0" x2="168.3" y2="257.2" stroke="#2f4e96" stroke-width="0.9"/>
<line x1="168.3" y1="245.0" x2="168.3" y2="245.0" stroke="#2f4e96" stroke-width="0.9"/>
<path d="M148.4 293.3L150.70000000000002 295.6L148.4 297.90000000000003L146.1 295.6Z" fill="#b3123b"/>
<path d="M151.0 293.9L153.3 296.2L151.0 298.5L148.7 296.2Z" fill="#b3123b"/>
<path d="M153.5 293.09999999999997L155.8 295.4L153.5 297.7L151.2 295.4Z" fill="#b3123b"/>
<path d="M156.0 292.7L158.3 295.0L156.0 297.3L153.7 295.0Z" fill="#b3123b"/>
<path d="M152.0 292.3L154.3 294.6L152.0 296.90000000000003L149.7 294.6Z" fill="#b3123b"/>
<circle cx="168.2" cy="241.3" r="1.95" fill="none" stroke="#2a4a92" stroke-width="1.05"/>
<circle cx="171.1" cy="248.0" r="1.95" fill="none" stroke="#2a4a92" stroke-width="1.05"/>
<circle cx="162.6" cy="250.0" r="1.95" fill="none" stroke="#2a4a92" stroke-width="1.05"/>
<circle cx="165.6" cy="253.3" r="1.95" fill="none" stroke="#2a4a92" stroke-width="1.05"/>
<circle cx="171.1" cy="257.5" r="1.95" fill="none" stroke="#2a4a92" stroke-width="1.05"/>
<circle cx="170.8" cy="271.3" r="1.95" fill="none" stroke="#2a4a92" stroke-width="1.05"/>
<circle cx="165.5" cy="273.9" r="1.95" fill="none" stroke="#2a4a92" stroke-width="1.05"/>
<circle cx="180.6" cy="289.8" r="1.95" fill="#22613f" stroke="none" stroke-width="0"/>
<circle cx="183.0" cy="288.6" r="1.95" fill="#22613f" stroke="none" stroke-width="0"/>
<circle cx="185.6" cy="288.3" r="1.95" fill="#22613f" stroke="none" stroke-width="0"/>
<circle cx="187.6" cy="289.4" r="1.95" fill="#22613f" stroke="none" stroke-width="0"/>
<circle cx="181.8" cy="291.6" r="1.95" fill="#22613f" stroke="none" stroke-width="0"/>
<circle cx="184.2" cy="291.8" r="1.95" fill="#22613f" stroke="none" stroke-width="0"/>
<circle cx="186.6" cy="291.6" r="1.95" fill="#22613f" stroke="none" stroke-width="0"/>
<text transform="translate(120.88 265.10) rotate(-90) scale(0.7815 1)" x="0" y="0" font-size="9.0" text-anchor="middle" fill="#111" stroke="#111" stroke-width="0.25">Clot formation time (min)</text>
<path d="M152.6 228.9V225.9H183.20000000000002V228.9" fill="none" stroke="#262626" stroke-width="1.15"/>
<text x="167.9" y="224.3" font-size="7.0" text-anchor="middle" font-weight="normal" fill="#222" stroke="#222" stroke-width="0.2">n.s.</text>
<path d="M152.6 237.2V234.2H167.60000000000002V237.2" fill="none" stroke="#262626" stroke-width="1.15"/>
<ellipse cx="155.68" cy="231.50" rx="1.05" ry="0.88" fill="#111"/>
<ellipse cx="158.62" cy="231.50" rx="1.05" ry="0.88" fill="#111"/>
<ellipse cx="161.58" cy="231.50" rx="1.05" ry="0.88" fill="#111"/>
<ellipse cx="164.53" cy="231.50" rx="1.05" ry="0.88" fill="#111"/>
<path d="M169.10000000000002 237.2V234.2H183.20000000000002V237.2" fill="none" stroke="#262626" stroke-width="1.15"/>
<ellipse cx="171.73" cy="231.50" rx="1.05" ry="0.88" fill="#111"/>
<ellipse cx="174.68" cy="231.50" rx="1.05" ry="0.88" fill="#111"/>
<ellipse cx="177.63" cy="231.50" rx="1.05" ry="0.88" fill="#111"/>
<ellipse cx="180.58" cy="231.50" rx="1.05" ry="0.88" fill="#111"/>
<text x="155.4" y="312.0" font-size="8.0" text-anchor="end" fill="#111" stroke="#111" stroke-width="0.2" transform="rotate(-45 155.4 312.0)">WT</text>
<text x="171.4" y="312.0" font-size="8.0" text-anchor="end" fill="#111" stroke="#111" stroke-width="0.2" transform="rotate(-45 171.4 312.0)">FIX<tspan font-size="4.8" dy="-3.3" fill="#666" stroke="#666">null</tspan></text>
<text x="187.20000000000002" y="312.0" font-size="8.0" text-anchor="end" fill="#111" stroke="#111" stroke-width="0.2" transform="rotate(-45 187.20000000000002 312.0)">2bCoF9R338L</text>
<rect x="245.2" y="245.45" width="9.2" height="56.150000000000034" fill="#d69484" stroke="#cc8676" stroke-width="0.5"/>
<rect x="261.09999999999997" y="269.35" width="9.2" height="32.25" fill="#7781ae" stroke="#6872a6" stroke-width="0.5"/>
<rect x="276.9" y="242.45" width="9.2" height="59.150000000000034" fill="#8ba691" stroke="#7d9a86" stroke-width="0.5"/>
<line x1="239.2" y1="228.5" x2="239.2" y2="302.32500000000005" stroke="#1e1e1e" stroke-width="1.45"/>
<line x1="236.2" y1="301.6" x2="239.2" y2="301.6" stroke="#222" stroke-width="1.0"/>
<text x="232.49999999999997" y="304.624" font-size="8.4" text-anchor="end" font-weight="normal" fill="#222" stroke="#222" stroke-width="0.2">0</text>
<line x1="236.2" y1="283.95000000000005" x2="239.2" y2="283.95000000000005" stroke="#222" stroke-width="1.0"/>
<text x="232.49999999999997" y="286.97400000000005" font-size="8.4" text-anchor="end" font-weight="normal" fill="#222" stroke="#222" stroke-width="0.2">20</text>
<line x1="236.2" y1="266.3" x2="239.2" y2="266.3" stroke="#222" stroke-width="1.0"/>
<text x="232.49999999999997" y="269.324" font-size="8.4" text-anchor="end" font-weight="normal" fill="#222" stroke="#222" stroke-width="0.2">40</text>
<line x1="236.2" y1="248.65000000000003" x2="239.2" y2="248.65000000000003" stroke="#222" stroke-width="1.0"/>
<text x="232.49999999999997" y="251.67400000000004" font-size="8.4" text-anchor="end" font-weight="normal" fill="#222" stroke="#222" stroke-width="0.2">60</text>
<line x1="236.2" y1="231.00000000000003" x2="239.2" y2="231.00000000000003" stroke="#222" stroke-width="1.0"/>
<text x="232.49999999999997" y="234.02400000000003" font-size="8.4" text-anchor="end" font-weight="normal" fill="#222" stroke="#222" stroke-width="0.2">80</text>
<line x1="238.39999999999998" y1="301.6" x2="292.3" y2="301.6" stroke="#222" stroke-width="1.3"/>
<line x1="249.79999999999998" y1="301.6" x2="249.79999999999998" y2="304.40000000000003" stroke="#222" stroke-width="1.0"/>
<line x1="265.7" y1="301.6" x2="265.7" y2="304.40000000000003" stroke="#222" stroke-width="1.0"/>
<line x1="281.5" y1="301.6" x2="281.5" y2="304.40000000000003" stroke="#222" stroke-width="1.0"/>
<line x1="266.0" y1="259.0" x2="266.0" y2="269.1" stroke="#2f4e96" stroke-width="0.9"/>
<line x1="264.5" y1="259.0" x2="267.5" y2="259.0" stroke="#2f4e96" stroke-width="0.9"/>
<path d="M246.5 241.39999999999998L248.8 243.7L246.5 246.0L244.2 243.7Z" fill="#b3123b"/>
<path d="M249.2 240.89999999999998L251.5 243.2L249.2 245.5L246.89999999999998 243.2Z" fill="#b3123b"/>
<path d="M251.7 241.39999999999998L254.0 243.7L251.7 246.0L249.39999999999998 243.7Z" fill="#b3123b"/>
<path d="M253.2 240.29999999999998L255.5 242.6L253.2 244.9L250.89999999999998 242.6Z" fill="#b3123b"/>
<path d="M248.3 245.29999999999998L250.60000000000002 247.6L248.3 249.9L246.0 247.6Z" fill="#b3123b"/>
<circle cx="265.9" cy="252.6" r="1.95" fill="none" stroke="#2a4a92" stroke-width="1.05"/>
<circle cx="265.1" cy="260.8" r="1.95" fill="none" stroke="#2a4a92" stroke-width="1.05"/>
<circle cx="268.1" cy="265.0" r="1.95" fill="none" stroke="#2a4a92" stroke-width="1.05"/>
<circle cx="263.6" cy="269.5" r="1.95" fill="none" stroke="#2a4a92" stroke-width="1.05"/>
<circle cx="266.6" cy="269.8" r="1.95" fill="none" stroke="#2a4a92" stroke-width="1.05"/>
<circle cx="268.6" cy="278.0" r="1.95" fill="none" stroke="#2a4a92" stroke-width="1.05"/>
<circle cx="263.3" cy="282.5" r="1.95" fill="none" stroke="#2a4a92" stroke-width="1.05"/>
<circle cx="279.3" cy="236.9" r="1.95" fill="#22613f" stroke="none" stroke-width="0"/>
<circle cx="284.1" cy="235.7" r="1.95" fill="#22613f" stroke="none" stroke-width="0"/>
<circle cx="281.1" cy="239.2" r="1.95" fill="#22613f" stroke="none" stroke-width="0"/>
<circle cx="279.3" cy="241.7" r="1.95" fill="#22613f" stroke="none" stroke-width="0"/>
<circle cx="284.5" cy="241.7" r="1.95" fill="#22613f" stroke="none" stroke-width="0"/>
<circle cx="281.6" cy="248.1" r="1.95" fill="#22613f" stroke="none" stroke-width="0"/>
<text transform="translate(217.22 265.10) rotate(-90) scale(0.8334 1)" x="0" y="0" font-size="8.5" text-anchor="middle" fill="#111" stroke="#111" stroke-width="0.25">Max clot firmness (mm)</text>
<path d="M249.99999999999997 224.6V221.6H280.6V224.6" fill="none" stroke="#262626" stroke-width="1.15"/>
<text x="265.3" y="220.0" font-size="7.0" text-anchor="middle" font-weight="normal" fill="#222" stroke="#222" stroke-width="0.2">n.s.</text>
<path d="M249.99999999999997 237.3V234.3H265.0V237.3" fill="none" stroke="#262626" stroke-width="1.15"/>
<ellipse cx="254.55" cy="231.60" rx="1.05" ry="0.88" fill="#111"/>
<ellipse cx="257.50" cy="231.60" rx="1.05" ry="0.88" fill="#111"/>
<ellipse cx="260.45" cy="231.60" rx="1.05" ry="0.88" fill="#111"/>
<path d="M266.5 231.7V228.7H280.6V231.7" fill="none" stroke="#262626" stroke-width="1.15"/>
<ellipse cx="269.12" cy="226.00" rx="1.05" ry="0.88" fill="#111"/>
<ellipse cx="272.07" cy="226.00" rx="1.05" ry="0.88" fill="#111"/>
<ellipse cx="275.02" cy="226.00" rx="1.05" ry="0.88" fill="#111"/>
<ellipse cx="277.98" cy="226.00" rx="1.05" ry="0.88" fill="#111"/>
<text x="252.79999999999998" y="311.70000000000005" font-size="8.0" text-anchor="end" fill="#111" stroke="#111" stroke-width="0.2" transform="rotate(-45 252.79999999999998 311.70000000000005)">WT</text>
<text x="268.8" y="311.70000000000005" font-size="8.0" text-anchor="end" fill="#111" stroke="#111" stroke-width="0.2" transform="rotate(-45 268.8 311.70000000000005)">FIX<tspan font-size="4.8" dy="-3.3" fill="#666" stroke="#666">null</tspan></text>
<text x="284.59999999999997" y="311.70000000000005" font-size="8.0" text-anchor="end" fill="#111" stroke="#111" stroke-width="0.2" transform="rotate(-45 284.59999999999997 311.70000000000005)">2bCoF9R338L</text>
<rect x="358.8" y="246.85" width="9.2" height="54.95000000000002" fill="#d69484" stroke="#cc8676" stroke-width="0.5"/>
<rect x="374.7" y="290.55" width="9.2" height="11.25" fill="#7781ae" stroke="#6872a6" stroke-width="0.5"/>
<rect x="390.5" y="262.75" width="9.2" height="39.05000000000001" fill="#8ba691" stroke="#7d9a86" stroke-width="0.5"/>
<line x1="352.8" y1="228.7" x2="352.8" y2="302.52500000000003" stroke="#1e1e1e" stroke-width="1.45"/>
<line x1="349.8" y1="301.8" x2="352.8" y2="301.8" stroke="#222" stroke-width="1.0"/>
<text x="346.1" y="304.824" font-size="8.4" text-anchor="end" font-weight="normal" fill="#222" stroke="#222" stroke-width="0.2">0</text>
<line x1="349.8" y1="284.2" x2="352.8" y2="284.2" stroke="#222" stroke-width="1.0"/>
<text x="346.1" y="287.224" font-size="8.4" text-anchor="end" font-weight="normal" fill="#222" stroke="#222" stroke-width="0.2">20</text>
<line x1="349.8" y1="266.6" x2="352.8" y2="266.6" stroke="#222" stroke-width="1.0"/>
<text x="346.1" y="269.624" font-size="8.4" text-anchor="end" font-weight="normal" fill="#222" stroke="#222" stroke-width="0.2">40</text>
<line x1="349.8" y1="249.0" x2="352.8" y2="249.0" stroke="#222" stroke-width="1.0"/>
<text x="346.1" y="252.024" font-size="8.4" text-anchor="end" font-weight="normal" fill="#222" stroke="#222" stroke-width="0.2">60</text>
<line x1="349.8" y1="231.4" x2="352.8" y2="231.4" stroke="#222" stroke-width="1.0"/>
<text x="346.1" y="234.424" font-size="8.4" text-anchor="end" font-weight="normal" fill="#222" stroke="#222" stroke-width="0.2">80</text>
<line x1="352.0" y1="301.8" x2="405.5" y2="301.8" stroke="#222" stroke-width="1.3"/>
<line x1="363.40000000000003" y1="301.8" x2="363.40000000000003" y2="304.6" stroke="#222" stroke-width="1.0"/>
<line x1="379.3" y1="301.8" x2="379.3" y2="304.6" stroke="#222" stroke-width="1.0"/>
<line x1="395.1" y1="301.8" x2="395.1" y2="304.6" stroke="#222" stroke-width="1.0"/>
<path d="M359.4 243.89999999999998L361.7 246.2L359.4 248.5L357.09999999999997 246.2Z" fill="#b3123b"/>
<path d="M361.4 245.29999999999998L363.7 247.6L361.4 249.9L359.09999999999997 247.6Z" fill="#b3123b"/>
<path d="M364.0 245.7L366.3 248.0L364.0 250.3L361.7 248.0Z" fill="#b3123b"/>
<path d="M362.6 242.5L364.90000000000003 244.8L362.6 247.10000000000002L360.3 244.8Z" fill="#b3123b"/>
<path d="M365.8 241.1L368.1 243.4L365.8 245.70000000000002L363.5 243.4Z" fill="#b3123b"/>
<path d="M367.0 240.2L369.3 242.5L367.0 244.8L364.7 242.5Z" fill="#b3123b"/>
<circle cx="376.6" cy="282.5" r="1.95" fill="none" stroke="#2a4a92" stroke-width="1.05"/>
<circle cx="381.6" cy="282.2" r="1.95" fill="none" stroke="#2a4a92" stroke-width="1.05"/>
<circle cx="375.1" cy="286.2" r="1.95" fill="none" stroke="#2a4a92" stroke-width="1.05"/>
<circle cx="382.6" cy="288.4" r="1.95" fill="none" stroke="#2a4a92" stroke-width="1.05"/>
<circle cx="377.4" cy="291.4" r="1.95" fill="none" stroke="#2a4a92" stroke-width="1.05"/>
<circle cx="379.6" cy="292.2" r="1.95" fill="none" stroke="#2a4a92" stroke-width="1.05"/>
<circle cx="378.6" cy="301.4" r="1.95" fill="none" stroke="#2a4a92" stroke-width="1.05"/>
<circle cx="392.0" cy="254.1" r="1.95" fill="#22613f" stroke="none" stroke-width="0"/>
<circle cx="397.5" cy="256.0" r="1.95" fill="#22613f" stroke="none" stroke-width="0"/>
<circle cx="394.6" cy="258.6" r="1.95" fill="#22613f" stroke="none" stroke-width="0"/>
<circle cx="391.6" cy="260.8" r="1.95" fill="#22613f" stroke="none" stroke-width="0"/>
<circle cx="397.5" cy="261.6" r="1.95" fill="#22613f" stroke="none" stroke-width="0"/>
<circle cx="393.5" cy="266.0" r="1.95" fill="#22613f" stroke="none" stroke-width="0"/>
<text transform="translate(331.08 265.10) rotate(-90) scale(0.8602 1)" x="0" y="0" font-size="9.0" text-anchor="middle" fill="#111" stroke="#111" stroke-width="0.25">α-angle (°)</text>
<path d="M363.6 229.2V226.2H394.20000000000005V229.2" fill="none" stroke="#262626" stroke-width="1.15"/>
<ellipse cx="377.43" cy="223.50" rx="1.05" ry="0.88" fill="#111"/>
<ellipse cx="380.38" cy="223.50" rx="1.05" ry="0.88" fill="#111"/>
<path d="M363.6 236.6V233.6H378.6V236.6" fill="none" stroke="#262626" stroke-width="1.15"/>
<ellipse cx="366.68" cy="230.90" rx="1.05" ry="0.88" fill="#111"/>
<ellipse cx="369.62" cy="230.90" rx="1.05" ry="0.88" fill="#111"/>
<ellipse cx="372.57" cy="230.90" rx="1.05" ry="0.88" fill="#111"/>
<ellipse cx="375.53" cy="230.90" rx="1.05" ry="0.88" fill="#111"/>
<path d="M380.1 236.6V233.6H394.20000000000005V236.6" fill="none" stroke="#262626" stroke-width="1.15"/>
<ellipse cx="382.73" cy="230.90" rx="1.05" ry="0.88" fill="#111"/>
<ellipse cx="385.68" cy="230.90" rx="1.05" ry="0.88" fill="#111"/>
<ellipse cx="388.62" cy="230.90" rx="1.05" ry="0.88" fill="#111"/>
<ellipse cx="391.58" cy="230.90" rx="1.05" ry="0.88" fill="#111"/>
<text x="366.40000000000003" y="311.90000000000003" font-size="8.0" text-anchor="end" fill="#111" stroke="#111" stroke-width="0.2" transform="rotate(-45 366.40000000000003 311.90000000000003)">WT</text>
<text x="382.40000000000003" y="311.90000000000003" font-size="8.0" text-anchor="end" fill="#111" stroke="#111" stroke-width="0.2" transform="rotate(-45 382.40000000000003 311.90000000000003)">FIX<tspan font-size="4.8" dy="-3.3" fill="#666" stroke="#666">null</tspan></text>
<text x="398.2" y="311.90000000000003" font-size="8.0" text-anchor="end" fill="#111" stroke="#111" stroke-width="0.2" transform="rotate(-45 398.2 311.90000000000003)">2bCoF9R338L</text>
<rect x="55.1" y="468.65" width="9.2" height="9.550000000000011" fill="#d69484" stroke="#cc8676" stroke-width="0.5"/>
<rect x="71.0" y="436.05" width="9.2" height="42.14999999999998" fill="#7781ae" stroke="#6872a6" stroke-width="0.5"/>
<rect x="86.80000000000001" y="453.25" width="9.2" height="24.94999999999999" fill="#8ba691" stroke="#7d9a86" stroke-width="0.5"/>
<line x1="49.1" y1="405.2" x2="49.1" y2="478.925" stroke="#1e1e1e" stroke-width="1.45"/>
<line x1="46.1" y1="478.2" x2="49.1" y2="478.2" stroke="#222" stroke-width="1.0"/>
<text x="42.400000000000006" y="481.224" font-size="8.4" text-anchor="end" font-weight="normal" fill="#222" stroke="#222" stroke-width="0.2">0</text>
<line x1="46.1" y1="460.5" x2="49.1" y2="460.5" stroke="#222" stroke-width="1.0"/>
<text x="42.400000000000006" y="463.524" font-size="8.4" text-anchor="end" font-weight="normal" fill="#222" stroke="#222" stroke-width="0.2">10</text>
<line x1="46.1" y1="442.8" x2="49.1" y2="442.8" stroke="#222" stroke-width="1.0"/>
<text x="42.400000000000006" y="445.824" font-size="8.4" text-anchor="end" font-weight="normal" fill="#222" stroke="#222" stroke-width="0.2">20</text>
<line x1="46.1" y1="425.09999999999997" x2="49.1" y2="425.09999999999997" stroke="#222" stroke-width="1.0"/>
<text x="42.400000000000006" y="428.12399999999997" font-size="8.4" text-anchor="end" font-weight="normal" fill="#222" stroke="#222" stroke-width="0.2">30</text>
<line x1="46.1" y1="407.4" x2="49.1" y2="407.4" stroke="#222" stroke-width="1.0"/>
<text x="42.400000000000006" y="410.424" font-size="8.4" text-anchor="end" font-weight="normal" fill="#222" stroke="#222" stroke-width="0.2">40</text>
<line x1="48.300000000000004" y1="478.2" x2="101.4" y2="478.2" stroke="#222" stroke-width="1.3"/>
<line x1="59.7" y1="478.2" x2="59.7" y2="481.0" stroke="#222" stroke-width="1.0"/>
<line x1="75.6" y1="478.2" x2="75.6" y2="481.0" stroke="#222" stroke-width="1.0"/>
<line x1="91.4" y1="478.2" x2="91.4" y2="481.0" stroke="#222" stroke-width="1.0"/>
<line x1="75.7" y1="426.5" x2="75.7" y2="435.8" stroke="#2f4e96" stroke-width="0.9"/>
<line x1="73.7" y1="426.5" x2="77.7" y2="426.5" stroke="#2f4e96" stroke-width="0.9"/>
<path d="M56.2 466.9L58.5 469.2L56.2 471.5L53.900000000000006 469.2Z" fill="#b3123b"/>
<path d="M58.6 467.3L60.9 469.6L58.6 471.90000000000003L56.300000000000004 469.6Z" fill="#b3123b"/>
<path d="M61.0 466.7L63.3 469.0L61.0 471.3L58.7 469.0Z" fill="#b3123b"/>
<path d="M63.2 465.3L65.5 467.6L63.2 469.90000000000003L60.900000000000006 467.6Z" fill="#b3123b"/>
<path d="M60.0 465.7L62.3 468.0L60.0 470.3L57.7 468.0Z" fill="#b3123b"/>
<circle cx="72.9" cy="428.3" r="1.95" fill="none" stroke="#2a4a92" stroke-width="1.05"/>
<circle cx="78.5" cy="432.6" r="1.95" fill="none" stroke="#2a4a92" stroke-width="1.05"/>
<circle cx="75.7" cy="444.1" r="1.95" fill="none" stroke="#2a4a92" stroke-width="1.05"/>
<circle cx="93.9" cy="443.9" r="1.95" fill="#22613f" stroke="none" stroke-width="0"/>
<circle cx="88.8" cy="448.6" r="1.95" fill="#22613f" stroke="none" stroke-width="0"/>
<circle cx="91.5" cy="448.0" r="1.95" fill="#22613f" stroke="none" stroke-width="0"/>
<circle cx="89.6" cy="451.2" r="1.95" fill="#22613f" stroke="none" stroke-width="0"/>
<circle cx="93.2" cy="451.4" r="1.95" fill="#22613f" stroke="none" stroke-width="0"/>
<circle cx="91.0" cy="454.0" r="1.95" fill="#22613f" stroke="none" stroke-width="0"/>
<circle cx="94.0" cy="454.6" r="1.95" fill="#22613f" stroke="none" stroke-width="0"/>
<circle cx="89.8" cy="456.6" r="1.95" fill="#22613f" stroke="none" stroke-width="0"/>
<circle cx="92.4" cy="458.0" r="1.95" fill="#22613f" stroke="none" stroke-width="0"/>
<text transform="translate(27.38 441.80) rotate(-90) scale(0.7824 1)" x="0" y="0" font-size="9.0" text-anchor="middle" fill="#111" stroke="#111" stroke-width="0.25">Lag time (min)</text>
<path d="M59.900000000000006 409.1V406.1H90.5V409.1" fill="none" stroke="#262626" stroke-width="1.15"/>
<ellipse cx="72.25" cy="403.40" rx="1.05" ry="0.88" fill="#111"/>
<ellipse cx="75.20" cy="403.40" rx="1.05" ry="0.88" fill="#111"/>
<ellipse cx="78.15" cy="403.40" rx="1.05" ry="0.88" fill="#111"/>
<path d="M59.900000000000006 421.8V418.8H74.89999999999999V421.8" fill="none" stroke="#262626" stroke-width="1.15"/>
<ellipse cx="62.98" cy="416.10" rx="1.05" ry="0.88" fill="#111"/>
<ellipse cx="65.93" cy="416.10" rx="1.05" ry="0.88" fill="#111"/>
<ellipse cx="68.88" cy="416.10" rx="1.05" ry="0.88" fill="#111"/>
<ellipse cx="71.83" cy="416.10" rx="1.05" ry="0.88" fill="#111"/>
<path d="M76.39999999999999 417.6V414.6H90.5V417.6" fill="none" stroke="#262626" stroke-width="1.15"/>
<ellipse cx="80.50" cy="411.90" rx="1.05" ry="0.88" fill="#111"/>
<ellipse cx="83.45" cy="411.90" rx="1.05" ry="0.88" fill="#111"/>
<ellipse cx="86.40" cy="411.90" rx="1.05" ry="0.88" fill="#111"/>
<text x="62.7" y="488.3" font-size="8.0" text-anchor="end" fill="#111" stroke="#111" stroke-width="0.2" transform="rotate(-45 62.7 488.3)">WT</text>
<text x="78.7" y="488.3" font-size="8.0" text-anchor="end" fill="#111" stroke="#111" stroke-width="0.2" transform="rotate(-45 78.7 488.3)">FIX<tspan font-size="4.8" dy="-3.3" fill="#666" stroke="#666">null</tspan></text>
<text x="94.5" y="488.3" font-size="8.0" text-anchor="end" fill="#111" stroke="#111" stroke-width="0.2" transform="rotate(-45 94.5 488.3)">2bCoF9R338L</text>
<rect x="147.4" y="467.65" width="9.2" height="10.450000000000045" fill="#d69484" stroke="#cc8676" stroke-width="0.5"/>
<rect x="163.3" y="430.35" width="9.2" height="47.75" fill="#7781ae" stroke="#6872a6" stroke-width="0.5"/>
<rect x="179.1" y="449.55" width="9.2" height="28.55000000000001" fill="#8ba691" stroke="#7d9a86" stroke-width="0.5"/>
<line x1="141.4" y1="405.2" x2="141.4" y2="478.82500000000005" stroke="#1e1e1e" stroke-width="1.45"/>
<line x1="138.4" y1="478.1" x2="141.4" y2="478.1" stroke="#222" stroke-width="1.0"/>
<text x="134.7" y="481.124" font-size="8.4" text-anchor="end" font-weight="normal" fill="#222" stroke="#222" stroke-width="0.2">0</text>
<line x1="138.4" y1="454.5" x2="141.4" y2="454.5" stroke="#222" stroke-width="1.0"/>
<text x="134.7" y="457.524" font-size="8.4" text-anchor="end" font-weight="normal" fill="#222" stroke="#222" stroke-width="0.2">20</text>
<line x1="138.4" y1="430.90000000000003" x2="141.4" y2="430.90000000000003" stroke="#222" stroke-width="1.0"/>
<text x="134.7" y="433.92400000000004" font-size="8.4" text-anchor="end" font-weight="normal" fill="#222" stroke="#222" stroke-width="0.2">40</text>
<line x1="138.4" y1="407.3" x2="141.4" y2="407.3" stroke="#222" stroke-width="1.0"/>
<text x="134.7" y="410.324" font-size="8.4" text-anchor="end" font-weight="normal" fill="#222" stroke="#222" stroke-width="0.2">60</text>
<line x1="140.6" y1="478.1" x2="194.0" y2="478.1" stroke="#222" stroke-width="1.3"/>
<line x1="152.0" y1="478.1" x2="152.0" y2="480.90000000000003" stroke="#222" stroke-width="1.0"/>
<line x1="167.9" y1="478.1" x2="167.9" y2="480.90000000000003" stroke="#222" stroke-width="1.0"/>
<line x1="183.7" y1="478.1" x2="183.7" y2="480.90000000000003" stroke="#222" stroke-width="1.0"/>
<line x1="168.2" y1="419.4" x2="168.2" y2="430.1" stroke="#2f4e96" stroke-width="0.9"/>
<line x1="168.2" y1="419.4" x2="168.2" y2="419.4" stroke="#2f4e96" stroke-width="0.9"/>
<path d="M152.1 459.3L154.4 461.6L152.1 463.90000000000003L149.79999999999998 461.6Z" fill="#b3123b"/>
<path d="M150.8 463.2L153.10000000000002 465.5L150.8 467.8L148.5 465.5Z" fill="#b3123b"/>
<path d="M154.1 464.5L156.4 466.8L154.1 469.1L151.79999999999998 466.8Z" fill="#b3123b"/>
<path d="M152.4 466.7L154.70000000000002 469.0L152.4 471.3L150.1 469.0Z" fill="#b3123b"/>
<circle cx="168.1" cy="419.4" r="1.95" fill="none" stroke="#2a4a92" stroke-width="1.05"/>
<circle cx="168.5" cy="429.3" r="1.95" fill="none" stroke="#2a4a92" stroke-width="1.05"/>
<circle cx="168.1" cy="437.7" r="1.95" fill="none" stroke="#2a4a92" stroke-width="1.05"/>
<circle cx="186.1" cy="441.3" r="1.95" fill="#22613f" stroke="none" stroke-width="0"/>
<circle cx="181.9" cy="444.2" r="1.95" fill="#22613f" stroke="none" stroke-width="0"/>
<circle cx="180.8" cy="447.4" r="1.95" fill="#22613f" stroke="none" stroke-width="0"/>
<circle cx="184.0" cy="446.8" r="1.95" fill="#22613f" stroke="none" stroke-width="0"/>
<circle cx="186.6" cy="448.6" r="1.95" fill="#22613f" stroke="none" stroke-width="0"/>
<circle cx="182.4" cy="450.2" r="1.95" fill="#22613f" stroke="none" stroke-width="0"/>
<circle cx="185.0" cy="451.4" r="1.95" fill="#22613f" stroke="none" stroke-width="0"/>
<circle cx="183.2" cy="453.6" r="1.95" fill="#22613f" stroke="none" stroke-width="0"/>
<text transform="translate(120.38 441.20) rotate(-90) scale(0.7839 1)" x="0" y="0" font-size="9.0" text-anchor="middle" fill="#111" stroke="#111" stroke-width="0.25">Peak time (min)</text>
<path d="M152.2 405.7V402.7H182.79999999999998V405.7" fill="none" stroke="#262626" stroke-width="1.15"/>
<ellipse cx="164.55" cy="400.00" rx="1.05" ry="0.88" fill="#111"/>
<ellipse cx="167.50" cy="400.00" rx="1.05" ry="0.88" fill="#111"/>
<ellipse cx="170.45" cy="400.00" rx="1.05" ry="0.88" fill="#111"/>
<path d="M152.2 413.2V410.2H167.20000000000002V413.2" fill="none" stroke="#262626" stroke-width="1.15"/>
<ellipse cx="155.27" cy="407.50" rx="1.05" ry="0.88" fill="#111"/>
<ellipse cx="158.22" cy="407.50" rx="1.05" ry="0.88" fill="#111"/>
<ellipse cx="161.17" cy="407.50" rx="1.05" ry="0.88" fill="#111"/>
<ellipse cx="164.12" cy="407.50" rx="1.05" ry="0.88" fill="#111"/>
<path d="M168.70000000000002 413.2V410.2H182.79999999999998V413.2" fill="none" stroke="#262626" stroke-width="1.15"/>
<ellipse cx="172.80" cy="407.50" rx="1.05" ry="0.88" fill="#111"/>
<ellipse cx="175.75" cy="407.50" rx="1.05" ry="0.88" fill="#111"/>
<ellipse cx="178.70" cy="407.50" rx="1.05" ry="0.88" fill="#111"/>
<text x="155.0" y="488.20000000000005" font-size="8.0" text-anchor="end" fill="#111" stroke="#111" stroke-width="0.2" transform="rotate(-45 155.0 488.20000000000005)">WT</text>
<text x="171.0" y="488.20000000000005" font-size="8.0" text-anchor="end" fill="#111" stroke="#111" stroke-width="0.2" transform="rotate(-45 171.0 488.20000000000005)">FIX<tspan font-size="4.8" dy="-3.3" fill="#666" stroke="#666">null</tspan></text>
<text x="186.8" y="488.20000000000005" font-size="8.0" text-anchor="end" fill="#111" stroke="#111" stroke-width="0.2" transform="rotate(-45 186.8 488.20000000000005)">2bCoF9R338L</text>
<rect x="245.2" y="438.35" width="9.2" height="39.94999999999999" fill="#d69484" stroke="#cc8676" stroke-width="0.5"/>
<rect x="261.09999999999997" y="474.25" width="9.2" height="4.050000000000011" fill="#7781ae" stroke="#6872a6" stroke-width="0.5"/>
<rect x="276.9" y="451.35" width="9.2" height="26.94999999999999" fill="#8ba691" stroke="#7d9a86" stroke-width="0.5"/>
<line x1="239.2" y1="405.0" x2="239.2" y2="479.02500000000003" stroke="#1e1e1e" stroke-width="1.45"/>
<line x1="236.2" y1="478.3" x2="239.2" y2="478.3" stroke="#222" stroke-width="1.0"/>
<text x="232.49999999999997" y="481.324" font-size="8.4" text-anchor="end" font-weight="normal" fill="#222" stroke="#222" stroke-width="0.2">0</text>
<line x1="236.2" y1="464.13" x2="239.2" y2="464.13" stroke="#222" stroke-width="1.0"/>
<text x="232.49999999999997" y="467.154" font-size="8.4" text-anchor="end" font-weight="normal" fill="#222" stroke="#222" stroke-width="0.2">50</text>
<line x1="236.2" y1="449.96000000000004" x2="239.2" y2="449.96000000000004" stroke="#222" stroke-width="1.0"/>
<text x="232.49999999999997" y="452.98400000000004" font-size="8.4" text-anchor="end" font-weight="normal" fill="#222" stroke="#222" stroke-width="0.2">100</text>
<line x1="236.2" y1="435.79" x2="239.2" y2="435.79" stroke="#222" stroke-width="1.0"/>
<text x="232.49999999999997" y="438.814" font-size="8.4" text-anchor="end" font-weight="normal" fill="#222" stroke="#222" stroke-width="0.2">150</text>
<line x1="236.2" y1="421.62" x2="239.2" y2="421.62" stroke="#222" stroke-width="1.0"/>
<text x="232.49999999999997" y="424.644" font-size="8.4" text-anchor="end" font-weight="normal" fill="#222" stroke="#222" stroke-width="0.2">200</text>
<line x1="236.2" y1="407.45000000000005" x2="239.2" y2="407.45000000000005" stroke="#222" stroke-width="1.0"/>
<text x="232.49999999999997" y="410.47400000000005" font-size="8.4" text-anchor="end" font-weight="normal" fill="#222" stroke="#222" stroke-width="0.2">250</text>
<line x1="238.39999999999998" y1="478.3" x2="292.0" y2="478.3" stroke="#222" stroke-width="1.3"/>
<line x1="249.79999999999998" y1="478.3" x2="249.79999999999998" y2="481.1" stroke="#222" stroke-width="1.0"/>
<line x1="265.7" y1="478.3" x2="265.7" y2="481.1" stroke="#222" stroke-width="1.0"/>
<line x1="281.5" y1="478.3" x2="281.5" y2="481.1" stroke="#222" stroke-width="1.0"/>
<line x1="249.8" y1="424.1" x2="249.8" y2="438.1" stroke="#b3123b" stroke-width="0.9"/>
<line x1="247.3" y1="424.1" x2="252.3" y2="424.1" stroke="#b3123b" stroke-width="0.9"/>
<path d="M249.8 415.5L252.10000000000002 417.8L249.8 420.1L247.5 417.8Z" fill="#b3123b"/>
<path d="M249.4 439.0L251.70000000000002 441.3L249.4 443.6L247.1 441.3Z" fill="#b3123b"/>
<path d="M252.4 441.0L254.70000000000002 443.3L252.4 445.6L250.1 443.3Z" fill="#b3123b"/>
<path d="M247.2 446.5L249.5 448.8L247.2 451.1L244.89999999999998 448.8Z" fill="#b3123b"/>
<circle cx="263.0" cy="473.3" r="1.95" fill="none" stroke="#2a4a92" stroke-width="1.05"/>
<circle cx="265.8" cy="473.6" r="1.95" fill="none" stroke="#2a4a92" stroke-width="1.05"/>
<circle cx="268.6" cy="473.3" r="1.95" fill="none" stroke="#2a4a92" stroke-width="1.05"/>
<circle cx="278.9" cy="445.2" r="1.95" fill="#22613f" stroke="none" stroke-width="0"/>
<circle cx="284.1" cy="444.2" r="1.95" fill="#22613f" stroke="none" stroke-width="0"/>
<circle cx="281.5" cy="446.6" r="1.95" fill="#22613f" stroke="none" stroke-width="0"/>
<circle cx="279.2" cy="448.9" r="1.95" fill="#22613f" stroke="none" stroke-width="0"/>
<circle cx="284.1" cy="448.9" r="1.95" fill="#22613f" stroke="none" stroke-width="0"/>
<circle cx="281.5" cy="453.1" r="1.95" fill="#22613f" stroke="none" stroke-width="0"/>
<circle cx="281.5" cy="462.2" r="1.95" fill="#22613f" stroke="none" stroke-width="0"/>
<text transform="translate(212.29 441.20) rotate(-90) scale(0.8189 1)" x="0" y="0" font-size="8.4" text-anchor="middle" fill="#111" stroke="#111" stroke-width="0.25">Peak thrombin (nM)</text>
<path d="M249.99999999999997 404.8V401.8H280.6V404.8" fill="none" stroke="#262626" stroke-width="1.15"/>
<text x="265.3" y="400.2" font-size="7.0" text-anchor="middle" font-weight="normal" fill="#222" stroke="#222" stroke-width="0.2">n.s.</text>
<path d="M249.99999999999997 413.7V410.7H265.0V413.7" fill="none" stroke="#262626" stroke-width="1.15"/>
<ellipse cx="253.07" cy="408.00" rx="1.05" ry="0.88" fill="#111"/>
<ellipse cx="256.02" cy="408.00" rx="1.05" ry="0.88" fill="#111"/>
<ellipse cx="258.97" cy="408.00" rx="1.05" ry="0.88" fill="#111"/>
<ellipse cx="261.93" cy="408.00" rx="1.05" ry="0.88" fill="#111"/>
<path d="M266.5 413.7V410.7H280.6V413.7" fill="none" stroke="#262626" stroke-width="1.15"/>
<ellipse cx="272.07" cy="408.00" rx="1.05" ry="0.88" fill="#111"/>
<ellipse cx="275.02" cy="408.00" rx="1.05" ry="0.88" fill="#111"/>
<text x="252.79999999999998" y="488.40000000000003" font-size="8.0" text-anchor="end" fill="#111" stroke="#111" stroke-width="0.2" transform="rotate(-45 252.79999999999998 488.40000000000003)">WT</text>
<text x="268.8" y="488.40000000000003" font-size="8.0" text-anchor="end" fill="#111" stroke="#111" stroke-width="0.2" transform="rotate(-45 268.8 488.40000000000003)">FIX<tspan font-size="4.8" dy="-3.3" fill="#666" stroke="#666">null</tspan></text>
<text x="284.59999999999997" y="488.40000000000003" font-size="8.0" text-anchor="end" fill="#111" stroke="#111" stroke-width="0.2" transform="rotate(-45 284.59999999999997 488.40000000000003)">2bCoF9R338L</text>
<rect x="358.4" y="437.95" width="9.2" height="40.150000000000034" fill="#d69484" stroke="#cc8676" stroke-width="0.5"/>
<rect x="374.29999999999995" y="470.95" width="9.2" height="7.150000000000034" fill="#7781ae" stroke="#6872a6" stroke-width="0.5"/>
<rect x="390.09999999999997" y="431.75" width="9.2" height="46.35000000000002" fill="#8ba691" stroke="#7d9a86" stroke-width="0.5"/>
<line x1="352.4" y1="404.9" x2="352.4" y2="478.82500000000005" stroke="#1e1e1e" stroke-width="1.45"/>
<line x1="349.4" y1="478.1" x2="352.4" y2="478.1" stroke="#222" stroke-width="1.0"/>
<text x="345.7" y="481.124" font-size="8.4" text-anchor="end" font-weight="normal" fill="#222" stroke="#222" stroke-width="0.2">0</text>
<line x1="349.4" y1="460.5" x2="352.4" y2="460.5" stroke="#222" stroke-width="1.0"/>
<text x="345.7" y="463.524" font-size="8.4" text-anchor="end" font-weight="normal" fill="#222" stroke="#222" stroke-width="0.2">500</text>
<line x1="349.4" y1="442.90000000000003" x2="352.4" y2="442.90000000000003" stroke="#222" stroke-width="1.0"/>
<text x="345.7" y="445.92400000000004" font-size="8.4" text-anchor="end" font-weight="normal" fill="#222" stroke="#222" stroke-width="0.2">1000</text>
<line x1="349.4" y1="425.3" x2="352.4" y2="425.3" stroke="#222" stroke-width="1.0"/>
<text x="345.7" y="428.324" font-size="8.4" text-anchor="end" font-weight="normal" fill="#222" stroke="#222" stroke-width="0.2">1500</text>
<line x1="349.4" y1="407.70000000000005" x2="352.4" y2="407.70000000000005" stroke="#222" stroke-width="1.0"/>
<text x="345.7" y="410.72400000000005" font-size="8.4" text-anchor="end" font-weight="normal" fill="#222" stroke="#222" stroke-width="0.2">2000</text>
<line x1="351.59999999999997" y1="478.1" x2="405.7" y2="478.1" stroke="#222" stroke-width="1.3"/>
<line x1="363.0" y1="478.1" x2="363.0" y2="480.90000000000003" stroke="#222" stroke-width="1.0"/>
<line x1="378.9" y1="478.1" x2="378.9" y2="480.90000000000003" stroke="#222" stroke-width="1.0"/>
<line x1="394.7" y1="478.1" x2="394.7" y2="480.90000000000003" stroke="#222" stroke-width="1.0"/>
<line x1="363.0" y1="426.3" x2="363.0" y2="437.7" stroke="#b3123b" stroke-width="0.9"/>
<line x1="360.5" y1="426.3" x2="365.5" y2="426.3" stroke="#b3123b" stroke-width="0.9"/>
<path d="M363.1 420.8L365.40000000000003 423.1L363.1 425.40000000000003L360.8 423.1Z" fill="#b3123b"/>
<path d="M363.1 430.9L365.40000000000003 433.2L363.1 435.5L360.8 433.2Z" fill="#b3123b"/>
<path d="M360.2 443.59999999999997L362.5 445.9L360.2 448.2L357.9 445.9Z" fill="#b3123b"/>
<path d="M365.7 443.2L368.0 445.5L365.7 447.8L363.4 445.5Z" fill="#b3123b"/>
<circle cx="378.5" cy="463.8" r="1.95" fill="none" stroke="#2a4a92" stroke-width="1.05"/>
<circle cx="381.8" cy="470.3" r="1.95" fill="none" stroke="#2a4a92" stroke-width="1.05"/>
<circle cx="376.5" cy="474.2" r="1.95" fill="none" stroke="#2a4a92" stroke-width="1.05"/>
<circle cx="381.1" cy="471.4" r="1.95" fill="none" stroke="#2a4a92" stroke-width="1.05"/>
<circle cx="398.1" cy="419.8" r="1.95" fill="#22613f" stroke="none" stroke-width="0"/>
<circle cx="391.6" cy="424.4" r="1.95" fill="#22613f" stroke="none" stroke-width="0"/>
<circle cx="393.9" cy="425.4" r="1.95" fill="#22613f" stroke="none" stroke-width="0"/>
<circle cx="396.5" cy="425.4" r="1.95" fill="#22613f" stroke="none" stroke-width="0"/>
<circle cx="392.6" cy="429.6" r="1.95" fill="#22613f" stroke="none" stroke-width="0"/>
<circle cx="397.4" cy="433.5" r="1.95" fill="#22613f" stroke="none" stroke-width="0"/>
<circle cx="397.4" cy="442.4" r="1.95" fill="#22613f" stroke="none" stroke-width="0"/>
<circle cx="392.2" cy="446.6" r="1.95" fill="#22613f" stroke="none" stroke-width="0"/>
<text transform="translate(310.48 441.40) rotate(-90) scale(0.7381 1)" x="0" y="0" font-size="9.0" text-anchor="middle" fill="#111" stroke="#111" stroke-width="0.25">Endogenous thrombin</text>
<text transform="translate(321.68 441.40) rotate(-90) scale(0.7815 1)" x="0" y="0" font-size="9.0" text-anchor="middle" fill="#111" stroke="#111" stroke-width="0.25">potential (nM)</text>
<path d="M363.2 405.6V402.6H393.8V405.6" fill="none" stroke="#262626" stroke-width="1.15"/>
<text x="378.5" y="401.0" font-size="7.0" text-anchor="middle" font-weight="normal" fill="#222" stroke="#222" stroke-width="0.2">n.s.</text>
<path d="M363.2 413.7V410.7H378.2V413.7" fill="none" stroke="#262626" stroke-width="1.15"/>
<ellipse cx="369.22" cy="408.00" rx="1.05" ry="0.88" fill="#111"/>
<ellipse cx="372.17" cy="408.00" rx="1.05" ry="0.88" fill="#111"/>
<path d="M379.7 413.7V410.7H393.8V413.7" fill="none" stroke="#262626" stroke-width="1.15"/>
<ellipse cx="383.80" cy="408.00" rx="1.05" ry="0.88" fill="#111"/>
<ellipse cx="386.75" cy="408.00" rx="1.05" ry="0.88" fill="#111"/>
<ellipse cx="389.70" cy="408.00" rx="1.05" ry="0.88" fill="#111"/>
<text x="366.0" y="488.20000000000005" font-size="8.0" text-anchor="end" fill="#111" stroke="#111" stroke-width="0.2" transform="rotate(-45 366.0 488.20000000000005)">WT</text>
<text x="382.0" y="488.20000000000005" font-size="8.0" text-anchor="end" fill="#111" stroke="#111" stroke-width="0.2" transform="rotate(-45 382.0 488.20000000000005)">FIX<tspan font-size="4.8" dy="-3.3" fill="#666" stroke="#666">null</tspan></text>
<text x="397.79999999999995" y="488.20000000000005" font-size="8.0" text-anchor="end" fill="#111" stroke="#111" stroke-width="0.2" transform="rotate(-45 397.79999999999995 488.20000000000005)">2bCoF9R338L</text>
</svg>
<div class="frame"></div>
</div></body></html>
